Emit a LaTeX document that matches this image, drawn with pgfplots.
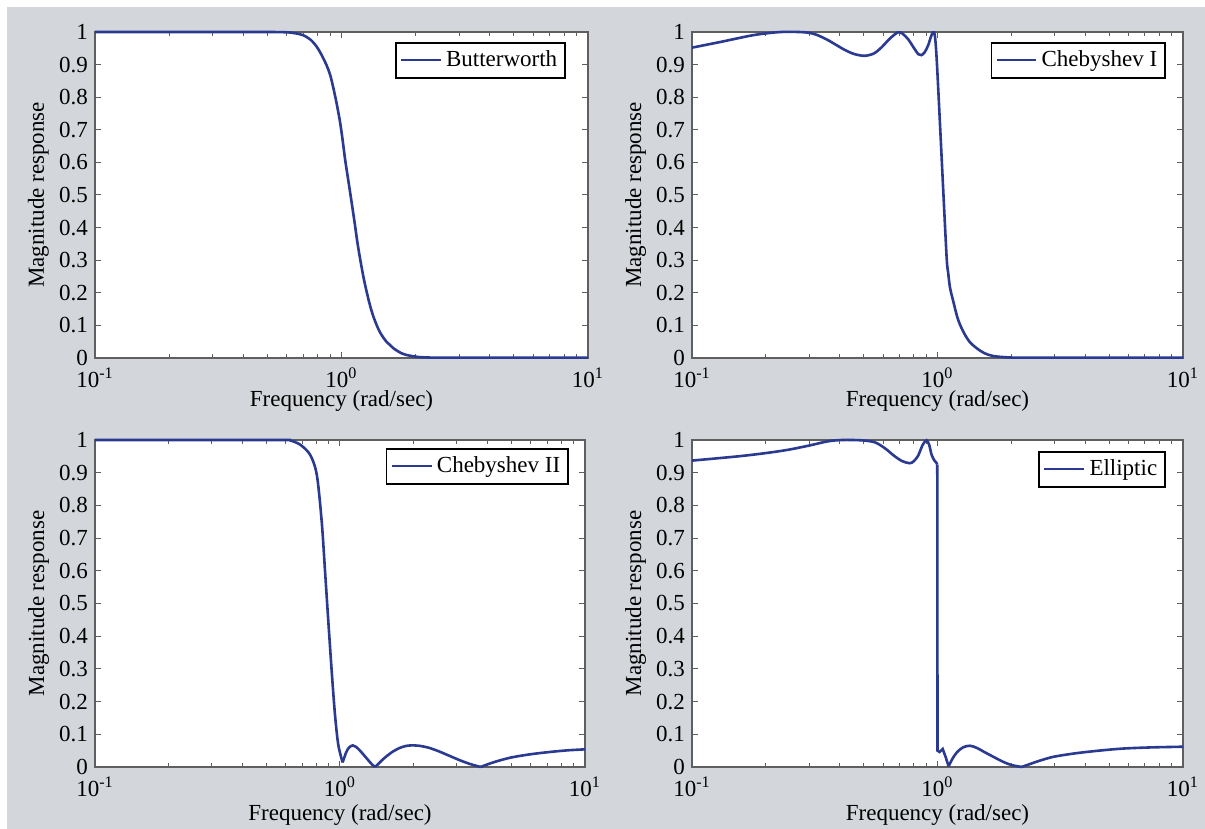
\documentclass[border=0pt]{standalone}
\usepackage{fontspec}
\setmainfont{Liberation Serif}
\usepackage{pgfplots}
\pgfplotsset{compat=1.18}
\definecolor{bg}{RGB}{211,214,218}
\definecolor{curve}{RGB}{42,58,145}
\definecolor{axgray}{RGB}{95,95,95}
\pgfplotsset{
  xmin=0.1, xmax=10, ymin=0, ymax=1,
  scale only axis,
  axis background/.style={fill=white},
  axis line style={draw=axgray, line width=0.6pt},
  tick align=inside, major tick length=3pt, minor tick length=2pt,
  tick style={axgray, line width=0.5pt},
  xtick={0.1,1,10},
  xticklabels={10\textsuperscript{-1},10\textsuperscript{0},10\textsuperscript{1}},
  xticklabel style={yshift=-1.5pt},
  ytick={0,0.1,0.2,0.3,0.4,0.5,0.6,0.7,0.8,0.9,1},
  yticklabels={0,0.1,0.2,0.3,0.4,0.5,0.6,0.7,0.8,0.9,1},
  xlabel={Frequency (rad/sec)}, ylabel={Magnitude response},
  ylabel style={at={(axis description cs:-0.115,0.5)}, anchor=center},
  xlabel style={at={(axis description cs:0.5,-0.132)}, anchor=center},
  legend style={at={(1,1)}, anchor=north east, draw=black, line width=0.8pt,
     inner sep=2pt, font=\fontsize{11.5}{13}\selectfont},
  legend cell align=left,
  legend image code/.code={\draw[#1, line width=1.2pt] (0cm,0cm) -- (0.7cm,0cm);},
  every axis/.append style={font=\fontsize{11.5}{13}\selectfont},
  clip=false,
  cv/.style={color=curve, line width=1.3pt, mark=none},
}
\begin{document}
\begin{tikzpicture}
\fill[white] (0,0) rectangle (602.5pt,414.5pt);
\fill[bg] (3.5pt,0) rectangle (602.5pt,411pt);
\path[use as bounding box] (0,0) rectangle (602.5pt,414.5pt);

% Butterworth
\begin{semilogxaxis}[at={(47.5pt,235.5pt)}, anchor=south west, width=246.5pt, height=163pt,
  legend style={xshift=-11pt, yshift=-5pt}]
\addplot[cv, smooth, tension=0.5] coordinates {
(0.1,1) (0.3,1) (0.5,1) (0.6,0.999) (0.65,0.996) (0.70,0.990) (0.75,0.976) (0.793,0.955)
(0.83,0.930) (0.871,0.897) (0.90,0.868) (0.927,0.828) (0.955,0.782) (0.986,0.725) (1.01,0.67)
(1.033,0.612) (1.058,0.56) (1.083,0.510) (1.108,0.46) (1.134,0.408) (1.16,0.355) (1.189,0.306)
(1.225,0.252) (1.265,0.203) (1.31,0.157) (1.35,0.125) (1.389,0.101) (1.43,0.080) (1.48,0.062)
(1.53,0.048) (1.573,0.040) (1.63,0.029) (1.70,0.020) (1.77,0.013) (1.84,0.009) (2.0,0.004)
(2.15,0.002) (2.5,0.001) (4,0.001) (10,0.001)
};
\addlegendentry{Butterworth}
\end{semilogxaxis}

% Chebyshev I
\begin{semilogxaxis}[at={(346pt,235.5pt)}, anchor=south west, width=245.5pt, height=163pt,
  legend style={xshift=-8.5pt, yshift=-5pt}]
\addplot[cv, smooth, tension=0.5] coordinates {
(0.1,0.952) (0.1317,0.970) (0.18,0.991) (0.231,1.0) (0.288,0.999) (0.32,0.992) (0.358,0.975)
(0.419,0.945) (0.46,0.932) (0.505,0.927) (0.55,0.934) (0.59,0.952) (0.64,0.980) (0.69,0.999)
(0.72,0.995) (0.759,0.978) (0.80,0.952) (0.835,0.932) (0.859,0.929) (0.885,0.937) (0.915,0.958)
(0.94,0.985) (0.959,0.999) (0.975,0.99) (0.992,0.919) (1.024,0.715) (1.056,0.510) (1.090,0.306)
(1.105,0.262) (1.125,0.215) (1.160,0.173) (1.21,0.12) (1.273,0.081) (1.35,0.050) (1.444,0.030)
(1.55,0.015) (1.687,0.006) (1.93,0.002) (2.2,0.001) (4,0.001) (10,0.001)
};
\addlegendentry{Chebyshev I}
\end{semilogxaxis}

% Chebyshev II
\begin{semilogxaxis}[at={(47.5pt,31pt)}, anchor=south west, width=245pt, height=163.5pt,
  xlabel style={at={(axis description cs:0.5,-0.148)}},
  legend style={xshift=-8pt, yshift=-4pt}]
\addplot[cv, smooth, tension=0.5] coordinates {
(0.1,1) (0.3,1) (0.6,1) (0.625,0.999) (0.687,0.986) (0.755,0.955) (0.804,0.894) (0.842,0.751)
(0.869,0.598) (0.896,0.446) (0.925,0.293) (0.954,0.160) (0.984,0.068) (1.025,0.014)
};
\addlegendentry{Chebyshev II}
\addplot[cv, smooth, tension=0.5, forget plot] coordinates {
(1.025,0.014) (1.06,0.045) (1.09,0.060) (1.127,0.066) (1.16,0.062) (1.2,0.052) (1.25,0.037)
(1.3,0.022) (1.35,0.008) (1.39,0)
};
\addplot[cv, smooth, tension=0.5, forget plot] coordinates {
(1.39,0) (1.45,0.013) (1.5,0.024) (1.58,0.038) (1.65,0.048) (1.75,0.058) (1.85,0.064)
(1.95,0.066) (2.1,0.065) (2.3,0.059) (2.53,0.048) (2.8,0.034) (3.1,0.020) (3.4,0.009) (3.75,0)
};
\addplot[cv, smooth, tension=0.5, forget plot] coordinates {
(3.75,0) (4.0,0.008) (4.3,0.016) (4.99,0.029) (6.0,0.039) (7.2,0.046) (8.5,0.051) (10,0.054)
};
\end{semilogxaxis}

% Elliptic
\begin{semilogxaxis}[at={(346pt,31pt)}, anchor=south west, width=245.5pt, height=163.5pt,
  xlabel style={at={(axis description cs:0.5,-0.148)}},
  legend style={xshift=-8.5pt, yshift=-5.5pt}]
\addplot[cv, smooth, tension=0.5] coordinates {
(0.1,0.937) (0.154,0.950) (0.2,0.960) (0.246,0.970) (0.3,0.983) (0.358,0.996) (0.41,1.0)
(0.49,0.999) (0.555,0.993) (0.61,0.975) (0.67,0.950) (0.72,0.935) (0.771,0.929) (0.80,0.935)
(0.834,0.952) (0.87,0.985) (0.902,0.999) (0.925,0.985) (0.946,0.955) (0.97,0.938) (0.99,0.930)
(0.998,0.925)
};
\addlegendentry{Elliptic}
\addplot[cv, forget plot] coordinates {
(0.998,0.925) (1.0,0.05) (1.02,0.046) (1.05,0.055) (1.08,0.030) (1.11,0.002)
};
\addplot[cv, smooth, tension=0.5, forget plot] coordinates {
(1.11,0.002) (1.15,0.025) (1.2,0.045) (1.27,0.060) (1.356,0.065) (1.45,0.058) (1.55,0.046)
(1.69,0.031) (1.85,0.016) (2.0,0.006) (2.2,0.0)
};
\addplot[cv, smooth, tension=0.5, forget plot] coordinates {
(2.2,0.0) (2.4,0.010) (2.6,0.019) (2.96,0.031) (3.5,0.040) (4.05,0.046) (5.0,0.053)
(5.9,0.057) (7.5,0.060) (10,0.062)
};
\end{semilogxaxis}
\end{tikzpicture}
\end{document}
